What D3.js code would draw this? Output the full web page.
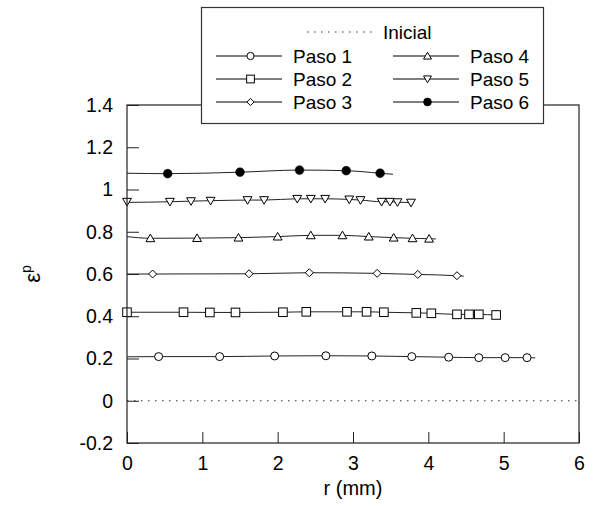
<!DOCTYPE html>
<html><head><meta charset="utf-8">
<script src="https://cdn.jsdelivr.net/npm/d3@7"></script>
<style>body{margin:0;background:#fff}svg{display:block}text{font-family:"Liberation Sans",Arial,sans-serif;fill:#000}</style>
</head><body>
<script>
// ---- data ----
const rTicks = [0,1,2,3,4,5,6];
const rTickLabels = ["0","1","2","3","4","5","6"];
const vTicks = [-0.2,0,0.2,0.4,0.6,0.8,1,1.2,1.4];
const vTickLabels = ["-0.2","0","0.2","0.4","0.6","0.8","1","1.2","1.4"];

const seriesNames = ["Paso 1","Paso 2","Paso 3","Paso 4","Paso 5","Paso 6"];
const seriesShapes = ["circle","square","diamond","triUp","triDown","dot"];

const r1 = [0.42,1.23,1.96,2.64,3.25,3.78,4.27,4.67,5.02,5.31];
const v1 = [0.209,0.209,0.212,0.213,0.212,0.209,0.206,0.204,0.204,0.204];
const r2 = [0.0,0.75,1.10,1.44,2.07,2.38,2.92,3.18,3.41,3.84,4.04,4.38,4.54,4.67,4.90];
const v2 = [0.419,0.419,0.418,0.418,0.419,0.421,0.421,0.421,0.419,0.416,0.414,0.409,0.409,0.409,0.406];
const r3 = [0.34,1.62,2.42,3.32,3.86,4.38];
const v3 = [0.600,0.601,0.606,0.603,0.598,0.592];
const r4 = [0.31,0.93,1.48,2.00,2.44,2.86,3.21,3.54,3.79,4.01];
const v4 = [0.769,0.770,0.772,0.777,0.783,0.783,0.777,0.772,0.769,0.767];
const r5 = [0.0,0.57,0.85,1.11,1.60,1.82,2.26,2.44,2.63,2.95,3.10,3.38,3.49,3.59,3.77];
const v5 = [0.942,0.942,0.945,0.947,0.950,0.950,0.956,0.956,0.956,0.953,0.950,0.942,0.942,0.940,0.938];
const r6 = [0.54,1.50,2.29,2.91,3.36];
const v6 = [1.075,1.082,1.092,1.089,1.077];

// line start value (at r = 0) and line end [r, v] for each series
const lineStartV = [0.208,0.419,0.600,0.777,0.939,1.077];
const lineEndR = [5.42,4.92,4.47,4.10,3.80,3.53];
const lineEndV = [0.203,0.406,0.590,0.766,0.937,1.072];

const inicialR = [0,6];
const inicialV = [0,0];

// ---- chart ----
const W = 597, H = 507;
const svg = d3.select("body").append("svg").attr("width",W).attr("height",H);
const x = d3.scaleLinear().domain([0,6]).range([127,579]);
const y = d3.scaleLinear().domain([-0.2,1.4]).range([443,105]);

const rs = [r1,r2,r3,r4,r5,r6], vs = [v1,v2,v3,v4,v5,v6];

// Inicial dotted line
svg.append("path")
  .attr("d", d3.line().x(d=>x(d[0])).y(d=>y(d[1]))(inicialR.map((r,i)=>[r,inicialV[i]])))
  .attr("fill","none").attr("stroke","#333").attr("stroke-width",1.2)
  .attr("stroke-dasharray","1.5,5.5");

// series lines
const line = d3.line().x(d=>x(d[0])).y(d=>y(d[1])).curve(d3.curveMonotoneX);
rs.forEach((rr,k)=>{
  const pts = [[0,lineStartV[k]]];
  rr.forEach((r,i)=>{ if(r>0) pts.push([r,vs[k][i]]); });
  pts.push([lineEndR[k],lineEndV[k]]);
  svg.append("path").attr("d",line(pts)).attr("fill","none")
    .attr("stroke","#222").attr("stroke-width",1);
});

function marker(g, shape, cx, cy, s){
  s = s || 1;
  if(shape==="circle"){
    g.append("circle").attr("cx",cx).attr("cy",cy).attr("r",4*s).attr("fill","#fff").attr("stroke","#000").attr("stroke-width",1);
  } else if(shape==="dot"){
    g.append("circle").attr("cx",cx).attr("cy",cy).attr("r",4.4*s).attr("fill","#000").attr("stroke","#000").attr("stroke-width",0.5);
  } else if(shape==="square"){
    const h=4.3*s;
    g.append("rect").attr("x",cx-h).attr("y",cy-h).attr("width",2*h).attr("height",2*h).attr("fill","#fff").attr("stroke","#000").attr("stroke-width",1);
  } else if(shape==="diamond"){
    const h=4*s;
    g.append("path").attr("d",`M${cx},${cy-h}L${cx+h},${cy}L${cx},${cy+h}L${cx-h},${cy}Z`).attr("fill","#fff").attr("stroke","#000").attr("stroke-width",1);
  } else if(shape==="triUp"){
    const w=4.4*s, t=4.2*s, b=3.4*s;
    g.append("path").attr("d",`M${cx},${cy-t}L${cx+w},${cy+b}L${cx-w},${cy+b}Z`).attr("fill","#fff").attr("stroke","#000").attr("stroke-width",1);
  } else if(shape==="triDown"){
    const w=4.4*s, t=4.2*s, b=3.4*s;
    g.append("path").attr("d",`M${cx},${cy+t}L${cx+w},${cy-b}L${cx-w},${cy-b}Z`).attr("fill","#fff").attr("stroke","#000").attr("stroke-width",1);
  }
}

const mk = svg.append("g");
rs.forEach((rr,k)=>{
  rr.forEach((r,i)=> marker(mk, seriesShapes[k], x(r), y(vs[k][i])));
});

// axes
const yAxis = d3.axisLeft(y).tickValues(vTicks).tickFormat((d,i)=>vTickLabels[i])
  .tickSizeInner(-12).tickSizeOuter(0).tickPadding(14);
const gy = svg.append("g").attr("transform",`translate(127,0)`).call(yAxis);
const xAxis = d3.axisBottom(x).tickValues(rTicks).tickFormat((d,i)=>rTickLabels[i])
  .tickSizeInner(-11).tickSizeOuter(0).tickPadding(13);
const gx = svg.append("g").attr("transform",`translate(0,443)`).call(xAxis);
[gx,gy].forEach(g=>{
  g.select(".domain").remove();
  g.selectAll(".tick line").attr("stroke","#222").attr("stroke-width",1);
  g.selectAll(".tick text").attr("font-size",19.5).attr("font-family","Liberation Sans, Arial, sans-serif").attr("fill","#000");
});

// frame
svg.append("rect").attr("x",127).attr("y",105).attr("width",579-127).attr("height",443-105)
  .attr("fill","none").attr("stroke","#222").attr("stroke-width",1.2);

// axis titles
svg.append("text").attr("x",353).attr("y",495).attr("text-anchor","middle").attr("font-size",20).text("r (mm)");
const yl = svg.append("text").attr("transform","translate(40,274) rotate(-90)").attr("text-anchor","middle").attr("font-size",22);
yl.append("tspan").text("ε");
yl.append("tspan").attr("font-size",14).attr("dy",-9).text("p");

// legend
const lg = svg.append("g");
lg.append("rect").attr("x",201.5).attr("y",7.5).attr("width",342).attr("height",116)
  .attr("fill","#fff").attr("stroke","#333").attr("stroke-width",1.2);
lg.append("line").attr("x1",307).attr("x2",372).attr("y1",32).attr("y2",32)
  .attr("stroke","#333").attr("stroke-width",1.2).attr("stroke-dasharray","1.5,5.5");
lg.append("text").attr("x",383).attr("y",38.5).attr("font-size",19).text("Inicial");
const colX = [216,393], rowY = [56,79,102];
seriesNames.forEach((nm,k)=>{
  const c = Math.floor(k/3), rI = k%3;
  const x0 = colX[c], yy = rowY[rI];
  lg.append("line").attr("x1",x0).attr("x2",x0+66).attr("y1",yy).attr("y2",yy).attr("stroke","#000").attr("stroke-width",1);
  marker(lg, seriesShapes[k], x0+34.5, yy, 0.9);
  lg.append("text").attr("x",x0+77).attr("y",yy+7).attr("font-size",19).text(nm);
});
</script>
</body></html>
